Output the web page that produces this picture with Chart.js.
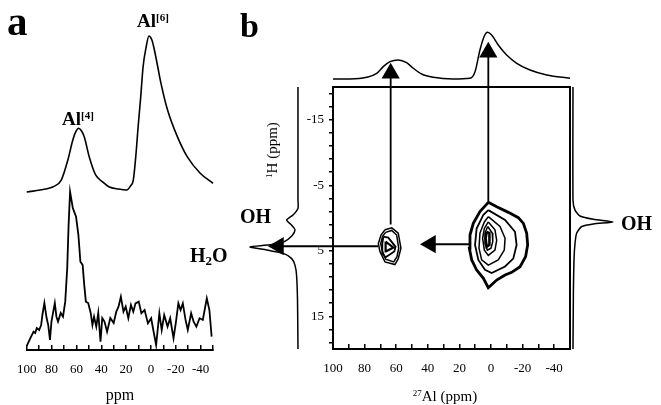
<!DOCTYPE html>
<html>
<head>
<meta charset="utf-8">
<script src="https://cdn.jsdelivr.net/npm/chart.js@4.4.1/dist/chart.umd.min.js"></script>
<style>
	html, body { margin: 0; padding: 0; background: #fff; }
	#wrap { position: relative; width: 661px; height: 405px; overflow: hidden; font-family: 'Liberation Serif', 'Times New Roman', serif; color: #000; }
	canvas { position: absolute; }
	.lbl { position: absolute; white-space: nowrap; line-height: 1; font-weight: bold; }
	.lbl sup { font-size: 0.58em; vertical-align: 0.55em; line-height: 0; }
	.lbl sub { font-size: 0.65em; vertical-align: -0.2em; line-height: 0; }
	.axt { position: absolute; white-space: nowrap; line-height: 1; font-size: 15px; }
	.axt sup { font-size: 0.6em; vertical-align: 0.55em; line-height: 0; }
</style>
</head>
<body>
<div id="wrap">
	<canvas id="topProj" width="237" height="65" style="left:333px;top:20px"></canvas>
	<canvas id="leftProj" width="55" height="262" style="left:245px;top:87px"></canvas>
	<canvas id="rightProj" width="55" height="262" style="left:565px;top:87px"></canvas>
	<canvas id="panelA" width="240" height="405" style="left:0;top:0"></canvas>
	<canvas id="panelB" width="421" height="405" style="left:240px;top:0"></canvas>

	<div class="lbl" style="left:7px;top:1px;font-size:41px">a</div>
	<div class="lbl" style="left:240px;top:9px;font-size:34px">b</div>
	<div class="lbl" style="left:62px;top:109px;font-size:19px">Al<sup>[4]</sup></div>
	<div class="lbl" style="left:137px;top:11px;font-size:19px">Al<sup>[6]</sup></div>
	<div class="lbl" style="left:240px;top:206px;font-size:20px">OH</div>
	<div class="lbl" style="left:190px;top:245px;font-size:20px">H<sub>2</sub>O</div>
	<div class="lbl" style="left:621px;top:213px;font-size:20px">OH</div>
	<div class="axt" style="left:272px;top:150px;transform:translate(-50%,-50%) rotate(-90deg)"><sup>1</sup>H (ppm)</div>
	<div class="axt" style="left:445px;top:389px;transform:translateX(-50%)"><sup>27</sup>Al (ppm)</div>
</div>
<script>
// ticks
const alTicks = [100, 90, 80, 70, 60, 50, 40, 30, 20, 10, 0, -10, -20, -30, -40, -50]
const alLabelled = [100, 80, 60, 40, 20, 0, -20, -40]
const hTicks = [-19, -17, -15, -13, -11, -9, -7, -5, -3, -1, 1, 3, 5, 7, 9, 11, 13, 15, 17, 19]
const hLabelled = [-15, -5, 5, 15]

// panel a, upper trace (27Al MAS)
const aTopPpm = [100, 85, 78.7, 72.2, 66.9, 62.9, 60.5, 58.2, 56, 53.7, 49.7, 44.5, 39, 33.9, 26, 19.5, 16.5, 14.2, 12.2, 10.3, 8.2, 6.3, 3.8, 1.6, -0.8, -2.8, -5.5, -8.1, -13.4, -21.3, -29.2, -39.7, -50]
const aTopInt = [0, 1.9, 3.4, 7.7, 20.6, 33.5, 38.9, 41.1, 39.5, 35.7, 22.8, 11, 6.6, 3.4, 1.9, 1.3, 3.9, 7.7, 22.8, 42.1, 61.5, 80.8, 93.7, 100.6, 98, 91.6, 80.8, 70.1, 52.9, 35.7, 22.8, 12.1, 5.6]

// panel a, lower trace (noisy)
const aBotPpm = [100, 97.1, 94.5, 93.2, 91.9, 90.0, 88.4, 87.4, 85.8, 84.0,
	82.7, 81.3, 80.1, 77.4, 76.1, 74.8, 72.6, 70.8, 69.0, 67.4,
	66.3, 65.1, 62.9, 60.3, 58.4, 56.8, 55.0, 53.7, 52.4, 50.5,
	48.5, 47.1, 45.8, 44.0, 42.4, 40.6, 39.2, 37.4, 35.3, 32.7,
	30.0, 27.9, 26.1, 24.2, 22.1, 20.3, 18.2, 16.1, 14.2, 12.4,
	9.8, 7.7, 5.1, 2.4, -0.2, -2.4, -4.2, -6.8, -8.7, -10.7,
	-13.4, -15.5, -18.2, -20.0, -22.1, -23.9, -25.7, -27.9, -29.7, -32.4,
	-34.4, -36.6, -39.2, -41.8, -45.0, -47.1, -48.9]
const aBotInt = [0, 5, 9.2, 8.4, 11.6, 10.3, 13.5, 20, 27.7, 18,
	13.5, 3.9, 15.7, 27.7, 18.9, 15.7, 21.3, 18.9, 28.6, 50.3,
	78, 99.5, 89, 83.4, 71.6, 54.4, 52.3, 39.4, 28.6, 27.7,
	21.3, 13.5, 18.9, 12.5, 21.3, 2.8, 18, 15.7, 9.2, 18,
	14.8, 22.1, 25.4, 31.8, 22.1, 25.4, 17.9, 26.5, 22.1, 27.5,
	28.6, 21.1, 23.2, 14.6, 17.9, 8.2, 0.6, 21.1, 10.3, 20,
	12.5, 17.9, 5, 14.6, 27.5, 23.2, 27.5, 16.8, 10.3, 21.1,
	15.7, 12.5, 17.9, 16.8, 30.8, 23.2, 6]

// panel b projections
const bTopPpm = [100, 89.2, 78.7, 72.3, 68.2, 63.9, 58.7, 53.4, 49.2, 43.9, 36.5, 23.9, 13.3, 10.1, 7.0, 4.4, 2.3, -0.4, -4.6, -9.9, -16.3, -24.7, -35.3, -50]
const bTopInt = [0, 0, 3.6, 12.1, 26.2, 36.8, 40.4, 34.7, 22.8, 10.6, 3.6, 0, 1.5, 15.5, 61.7, 90, 99.4, 93.6, 72.3, 51, 33.4, 19.1, 8.5, 1.5]
const bLeftH = [-20, -2.7, -1.5, -0.5, 0.3, 1.1, 1.8, 2.7, 3.7, 4.1, 4.4, 4.9, 5.4, 6.2, 7.2, 8.7, 12.5, 20]
const bLeftInt = [0, 0, 0, 9.8, 23.5, 13.1, 6.3, 12.5, 30.6, 58, 100, 65, 30.6, 13, 6.3, 3, 1, 0]
const bRightH = [-20, -2.7, -1.2, -0.3, 0.2, 0.6, 0.9, 1.3, 2.3, 3.9, 6.4, 11, 20]
const bRightInt = [0, 0, 5, 17.5, 50.8, 100, 50.8, 21.8, 9.3, 5, 2.5, 1, 0]

// contour levels, [27Al ppm, 1H ppm]
const tetraRing1 = [[67.1, 1.8], [62.8, 1.5], [58.7, 2.3], [57.0, 4.6], [58.7, 6.2], [60.8, 7.1], [67.1, 6.7], [70.3, 5.1], [71.3, 3.9], [69.6, 2.6]]
const tetraRing2 = [[66.7, 2.2], [62.9, 1.9], [59.7, 2.6], [58.4, 4.6], [59.5, 5.9], [61.6, 6.7], [66.7, 6.3], [68.8, 5.0], [69.8, 3.9], [68.6, 2.8]]
const tetraRing3 = [[68.1, 2.85], [65.0, 3.0], [60.4, 4.4], [61.2, 5.1], [66.7, 6.0], [68.8, 5.4], [68.8, 3.9]]
const tetraRing4 = [[66.7, 3.6], [61.8, 4.5], [66.5, 5.1]]

const octaRing1 = [[1.7, -2.39], [-3.6, -1.73], [-11.0, -0.86], [-17.3, -0.05], [-20.5, 0.82], [-22.6, 2.34], [-23.2, 4.12], [-21.9, 5.9], [-18.4, 7.43], [-13.1, 8.3], [-8.9, 8.7], [-3.6, 9.47], [1.7, 10.64], [4.8, 9.21], [9.1, 7.94], [12.2, 6.41], [13.7, 4.63], [13.3, 2.6], [11.2, 0.82], [7.0, -0.97]]
const octaRing2 = [[1.7, -1.2], [-8.9, 0.3], [-15.2, 2.1], [-16.2, 4.1], [-14.1, 6.2], [-8.9, 7.4], [-0.4, 8.4], [3.8, 7.9], [8.0, 6.4], [10.1, 4.1], [9.1, 1.6], [4.8, -0.5]]
const octaRing3 = [[1.7, -0.2], [-5.7, 1.3], [-8.9, 3.1], [-8.4, 4.9], [-4.6, 6.4], [1.7, 7.2], [5.9, 6.4], [7.6, 4.6], [7.0, 2.3], [4.2, 0.6]]
const octaRing4 = [[1.7, 0.6], [-2.5, 1.8], [-3.6, 3.4], [-2.5, 4.9], [1.7, 5.7], [4.2, 4.9], [5.3, 3.1], [4.2, 1.6]]
const octaRing5 = [[2.1, 1.3], [-0.8, 2.3], [-1.1, 3.6], [0.0, 4.6], [2.3, 4.9], [3.8, 3.9], [3.8, 2.3]]
const octaRing6 = [[2.7, 2.1], [1.0, 2.3], [1.0, 4.1], [2.7, 4.4], [3.4, 3.1]]

// arrows: [27Al ppm, 1H ppm] from start to head
const arrowTetraUp = [[63.5, 1.0], [63.5, -22.1]]
const arrowOctaUp = [[1.7, -2.4], [1.7, -25.3]]
const arrowTetraLeft = [[71.5, 4.3], [134.5, 4.3]]
const arrowOctaLeft = [[13.7, 4.0], [38.3, 4.0]]

Chart.defaults.font.family = "'Liberation Serif', 'Times New Roman', serif"
Chart.defaults.font.size = 13
Chart.defaults.color = '#000'

function pts(xs, ys) {
	return xs.map((x, i) => ({x: x, y: ys[i]}))
}
function ring(r) {
	return r.concat([r[0]]).map(p => ({x: p[0], y: p[1]}))
}
function trace(data, width, extra) {
	return Object.assign({
		data: data,
		showLine: true,
		borderColor: '#000',
		borderWidth: width,
		pointRadius: 0,
		tension: 0,
		clip: false,
	}, extra)
}
function arrowLine(a, width) {
	// listed head first so the points are not sorted
	return trace([a[1], a[0]].map(p => ({x: p[0], y: p[1]})), width)
}
function arrowHead(a, rotation) {
	// the wide transparent border only keeps the head from being culled outside the plot box
	return {
		data: [{x: a[1][0], y: a[1][1]}],
		showLine: false,
		pointStyle: 'triangle',
		pointRadius: 10.5,
		pointHoverRadius: 300,
		pointRotation: rotation,
		pointBackgroundColor: '#000',
		pointBorderColor: 'rgba(0,0,0,0)',
		pointBorderWidth: 300,
		clip: false,
	}
}
function alAxis(extra) {
	return Object.assign({
		type: 'linear',
		reverse: true,
		min: -50,
		max: 100,
		position: 'bottom',
		afterBuildTicks: s => { s.ticks = alTicks.map(v => ({value: v})) },
		afterFit: s => { s.height = 55 },
		ticks: {autoSkip: false, maxRotation: 0, padding: 17, callback: v => alLabelled.includes(v) ? String(v) : ''},
		grid: {drawOnChartArea: false, tickLength: -5, color: '#000', lineWidth: 1.5},
		border: {color: '#000', width: 2},
	}, extra)
}
const base = {
	responsive: false,
	animation: false,
	events: [],
	plugins: {legend: {display: false}, tooltip: {enabled: false}},
}

new Chart(document.getElementById('panelA'), {
	type: 'scatter',
	data: {
		datasets: [
			trace(pts(aTopPpm, aTopInt), 1.6, {yAxisID: 'y', cubicInterpolationMode: 'monotone'}),
			trace(pts(aBotPpm, aBotInt), 1.8, {yAxisID: 'yBot'}),
		],
	},
	options: Object.assign({}, base, {
		layout: {autoPadding: false, padding: {left: 23, right: 27, top: 30, bottom: 0}},
		scales: {
			x: alAxis({title: {display: true, text: 'ppm', font: {size: 16}, padding: {top: 0, bottom: 0}}}),
			y: {display: false, min: -101.9, max: 104.5},
			yBot: {display: false, min: -2.6, max: 203.9},
		},
	}),
})

new Chart(document.getElementById('panelB'), {
	type: 'scatter',
	data: {
		datasets: [
			trace(ring(tetraRing1), 1.5),
			trace(ring(tetraRing2), 1.5),
			trace(ring(tetraRing3), 1.8),
			trace(ring(tetraRing4), 2.2),
			trace(ring(octaRing1), 2.8),
			trace(ring(octaRing2), 1.8),
			trace(ring(octaRing3), 1.5),
			trace(ring(octaRing4), 1.5),
			trace(ring(octaRing5), 1.5),
			trace(ring(octaRing6), 2.5),
			arrowLine(arrowTetraUp, 1.8),
			arrowLine(arrowOctaUp, 1.8),
			arrowLine(arrowTetraLeft, 2),
			arrowLine(arrowOctaLeft, 2),
			arrowHead(arrowTetraUp, 0),
			arrowHead(arrowOctaUp, 0),
			arrowHead(arrowTetraLeft, 270),
			arrowHead(arrowOctaLeft, 270),
		],
	},
	options: Object.assign({}, base, {
		layout: {autoPadding: false, padding: {left: 51, right: 91, top: 87, bottom: 0}},
		scales: {
			x: alAxis({afterFit: s => { s.height = 56 }}),
			y: {
				type: 'linear',
				reverse: true,
				min: -20,
				max: 20,
				position: 'left',
				afterBuildTicks: s => { s.ticks = hTicks.map(v => ({value: v})) },
				afterFit: s => { s.width = 42 },
				ticks: {autoSkip: false, padding: 5, callback: v => hLabelled.includes(v) ? String(v) : ''},
				grid: {drawOnChartArea: false, tickLength: 4, color: '#000', lineWidth: 1.5},
				border: {color: '#000', width: 2},
			},
			xTop: {
				type: 'linear', position: 'top', min: 0, max: 1,
				ticks: {display: false}, grid: {display: false},
				border: {color: '#000', width: 2},
				afterFit: s => { s.height = 0 },
			},
			yRight: {
				type: 'linear', position: 'right', min: 0, max: 1,
				ticks: {display: false}, grid: {display: false},
				border: {color: '#000', width: 2},
				afterFit: s => { s.width = 0 },
			},
		},
	}),
})

new Chart(document.getElementById('topProj'), {
	type: 'scatter',
	data: {datasets: [trace(pts(bTopPpm, bTopInt), 1.5, {cubicInterpolationMode: 'monotone'})]},
	options: Object.assign({}, base, {
		layout: {autoPadding: false},
		scales: {
			x: {display: false, reverse: true, min: -50, max: 100},
			y: {display: false, min: -12.8, max: 125.5},
		},
	}),
})

new Chart(document.getElementById('leftProj'), {
	type: 'scatter',
	data: {datasets: [trace(pts(bLeftInt, bLeftH), 1.5, {tension: 0.25})]},
	options: Object.assign({}, base, {
		layout: {autoPadding: false},
		scales: {
			x: {display: false, reverse: true, min: -4.2, max: 110.4},
			y: {display: false, reverse: true, min: -20, max: 20},
		},
	}),
})

new Chart(document.getElementById('rightProj'), {
	type: 'scatter',
	data: {datasets: [trace(pts(bRightInt, bRightH), 1.5, {tension: 0.2})]},
	options: Object.assign({}, base, {
		layout: {autoPadding: false},
		scales: {
			x: {display: false, min: -20, max: 117.5},
			y: {display: false, reverse: true, min: -20, max: 20},
		},
	}),
})
</script>
</body>
</html>
